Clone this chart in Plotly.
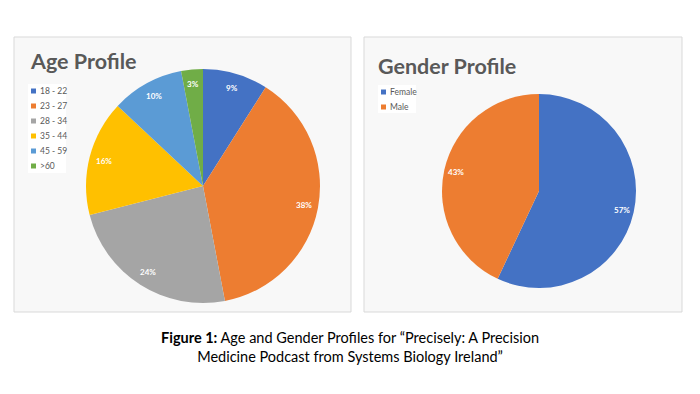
import math
import plotly.graph_objects as go

# ---- data ----
age_labels = ["18 - 22", "23 - 27", "28 - 34", "35 - 44", "45 - 59", ">60"]
age_values = [9, 38, 24, 16, 10, 3]
age_colors = ["#4472C4", "#ED7D31", "#A5A5A5", "#FFC000", "#5B9BD5", "#70AD47"]

gender_labels = ["Female", "Male"]
gender_values = [57, 43]
gender_colors = ["#4472C4", "#ED7D31"]

# page body has an 8px margin; figure sized to fit the 700x394 window
OFF = 8
W, H = 700 - OFF, 394 - OFF
FONT = "Lato"
GREY = "#595959"


def px(x):
    return (x - OFF) / W


def py(y):
    return 1 - (y - OFF) / H


shapes = []
annotations = []

fig = go.Figure()


def add_pie(labels, values, colors, cx, cy, r):
    fig.add_trace(go.Pie(
        labels=labels, values=values, sort=False, direction="clockwise",
        rotation=0, marker=dict(colors=colors, line=dict(width=0)),
        textinfo="none",
        domain=dict(x=[px(cx - r), px(cx + r)], y=[py(cy + r), py(cy - r)]),
        showlegend=False, hoverinfo="label+percent",
    ))
    # percentage labels placed near the outer part of each slice (Excel style)
    total = sum(values)
    cum = 0
    for v in values:
        mid = (cum + v / 2) / total * 2 * math.pi
        cum += v
        d = 0.875 * r
        lx = cx + d * math.sin(mid)
        ly = cy - d * math.cos(mid)
        annotations.append(dict(text="<b>%d%%</b>" % round(v / total * 100),
                                xref="paper", yref="paper", x=px(lx), y=py(ly),
                                xanchor="center", yanchor="middle", showarrow=False,
                                font=dict(family=FONT, size=8, color="white")))


add_pie(age_labels, age_values, age_colors, 203, 186, 117)
add_pie(gender_labels, gender_values, gender_colors, 539, 191, 97)

# panels
for x0, x1 in [(14, 351), (364, 682)]:
    shapes.append(dict(type="rect", xref="paper", yref="paper", layer="below",
                       x0=px(x0), x1=px(x1), y0=py(312), y1=py(37),
                       fillcolor="#F8F8F8", line=dict(color="#D9D9D9", width=1)))

# legend boxes
shapes.append(dict(type="rect", xref="paper", yref="paper", layer="below",
                   x0=px(28), x1=px(66), y0=py(173), y1=py(84),
                   fillcolor="white", line=dict(width=0)))
shapes.append(dict(type="rect", xref="paper", yref="paper", layer="below",
                   x0=px(378), x1=px(416), y0=py(113), y1=py(85),
                   fillcolor="white", line=dict(width=0)))


def legend(labels, colors, mx, y0, step=15):
    for i, (lab, col) in enumerate(zip(labels, colors)):
        yc = y0 + i * step
        shapes.append(dict(type="rect", xref="paper", yref="paper",
                           x0=px(mx), x1=px(mx + 5), y0=py(yc + 2.5), y1=py(yc - 2.5),
                           fillcolor=col, line=dict(width=0)))
        annotations.append(dict(text=lab, xref="paper", yref="paper",
                                x=px(mx + 7), y=py(yc), xanchor="left", yanchor="middle",
                                showarrow=False, font=dict(family=FONT, size=8.5, color=GREY)))


legend(age_labels, age_colors, 31, 91)
legend(gender_labels, gender_colors, 381, 92)

# titles
annotations.append(dict(text="<b>Age Profile</b>", xref="paper", yref="paper",
                        x=px(28), y=py(61), xanchor="left", yanchor="middle",
                        showarrow=False, font=dict(family=FONT, size=21.5, color=GREY)))
annotations.append(dict(text="<b>Gender Profile</b>", xref="paper", yref="paper",
                        x=px(376), y=py(66), xanchor="left", yanchor="middle",
                        showarrow=False, font=dict(family=FONT, size=21.5, color=GREY)))

# caption
annotations.append(dict(
    text="<b>Figure 1:</b> Age and Gender Profiles for \u201cPrecisely: A Precision<br>"
         "Medicine Podcast from Systems Biology Ireland\u201d",
    xref="paper", yref="paper", x=px(350), y=py(347), xanchor="center", yanchor="middle",
    align="center", showarrow=False, font=dict(family=FONT, size=14.5, color="black")))

fig.update_layout(
    width=W, height=H, margin=dict(l=0, r=0, t=0, b=0),
    paper_bgcolor="white", plot_bgcolor="white",
    shapes=shapes, annotations=annotations,
)

fig.write_html("out.html")
